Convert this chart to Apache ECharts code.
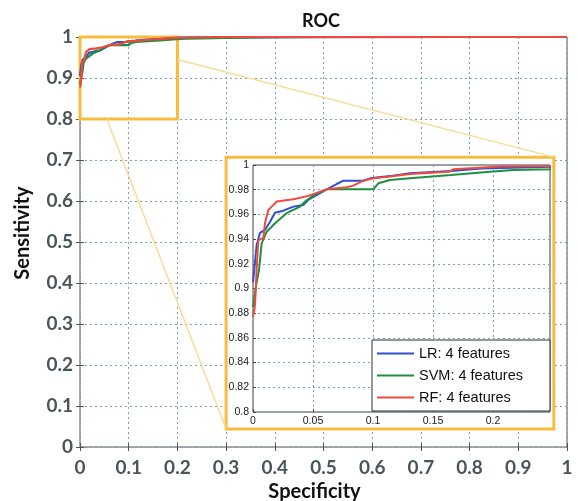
<!doctype html>
<html>
<head>
<meta charset="utf-8">
<title>ROC</title>
<script src="https://cdn.jsdelivr.net/npm/echarts@6/dist/echarts.min.js"></script>
</head>
<body style="margin:0; background:#fff">
<div id="container" style="width:578px;height:501px"></div>
<script>
// ROC curves (x = 1 - specificity as plotted)
var lrX  = [0, 0.0015, 0.003, 0.0058, 0.01, 0.0142, 0.0183, 0.0253, 0.0336, 0.0419, 0.046, 0.0614, 0.0697, 0.0753, 0.0919, 0.0975, 0.1142, 0.1308, 0.165, 0.19, 0.215, 0.2475, 0.3, 0.5, 0.78, 1];
var lrY  = [0.905, 0.92, 0.935, 0.945, 0.9474, 0.954, 0.9614, 0.963, 0.9663, 0.9676, 0.9717, 0.9803, 0.9846, 0.9873, 0.9873, 0.9892, 0.991, 0.9933, 0.9952, 0.9972, 0.9978, 0.9986, 0.9992, 0.9996, 1, 1];
var svmX = [0, 0.0015, 0.003, 0.005, 0.0072, 0.0114, 0.0197, 0.028, 0.0392, 0.0433, 0.053, 0.0614, 0.1003, 0.1044, 0.1142, 0.1308, 0.165, 0.1975, 0.2169, 0.2475, 0.3, 0.4, 0.5, 1];
var svmY = [0.885, 0.895, 0.905, 0.915, 0.9366, 0.946, 0.954, 0.961, 0.9663, 0.9703, 0.977, 0.9803, 0.9803, 0.9852, 0.9879, 0.9892, 0.9919, 0.9946, 0.996, 0.9965, 0.998, 0.9995, 1, 1];
var rfX  = [0, 0.0015, 0.002, 0.003, 0.0044, 0.0086, 0.01, 0.0128, 0.0156, 0.0197, 0.0336, 0.0461, 0.0614, 0.078, 0.0836, 0.0919, 0.1003, 0.1142, 0.1308, 0.164, 0.1669, 0.1919, 0.2058, 0.2475, 0.3, 1];
var rfY  = [0.877, 0.885, 0.893, 0.915, 0.939, 0.941, 0.953, 0.9636, 0.9663, 0.9704, 0.9722, 0.975, 0.9803, 0.982, 0.9833, 0.9873, 0.9892, 0.9906, 0.9927, 0.9946, 0.9965, 0.998, 0.9987, 0.9992, 1, 1];

var seriesNames = ['LR: 4 features', 'SVM: 4 features', 'RF: 4 features'];
var seriesColors = ['#2f4fd0', '#1f8f3f', '#f04a3c'];

// zoomed region shown in the inset
var zoomX = [0, 0.2];
var zoomY = [0.8, 1];

function zip(xs, ys) {
  var out = [];
  for (var i = 0; i < xs.length; i++) out.push([xs[i], ys[i]]);
  return out;
}
var curves = [zip(lrX, lrY), zip(svmX, svmY), zip(rfX, rfY)];

var dom = document.getElementById('container');
var myChart = echarts.init(dom, null, {renderer: 'canvas'});

var gridLine = {show: true, lineStyle: {color: '#7b9fb5', type: [2, 3], width: 1}};
var bigFont = {fontFamily: 'Lato', fontWeight: 'bold', fontSize: 19, color: '#4b5559'};
var smallFont = {fontFamily: 'Liberation Sans', fontSize: 10.5, color: '#222'};
var nameFont = {fontFamily: 'Lato', fontWeight: 'bold', fontSize: 20, color: '#111'};
var yellow = '#f7bc3c';

var series = [];
// yellow zoom box, inset frame and connector lines
series.push({
  type: 'line',
  xAxisIndex: 0, yAxisIndex: 0,
  data: [],
  z: 1,
  silent: true,
  markArea: {
    silent: true,
    label: {show: false},
    data: [
      [{coord: [zoomX[0], zoomY[0]], itemStyle: {color: 'rgba(0,0,0,0)', borderColor: yellow, borderWidth: 3}},
       {coord: [zoomX[1], zoomY[1]]}],
      [{coord: [0.3, 0.044], itemStyle: {color: '#fff', borderColor: yellow, borderWidth: 3}},
       {coord: [0.973, 0.707]}]
    ]
  },
  markLine: {
    silent: true,
    symbol: 'none',
    label: {show: false},
    lineStyle: {color: '#f9dc97', width: 1.5, type: 'solid'},
    data: [
      [{coord: [zoomX[1], 0.945]}, {coord: [0.973, 0.707]}],
      [{coord: [0.055, zoomY[0]]}, {coord: [0.3, 0.044]}]
    ]
  }
});

for (var i = 0; i < 3; i++) {
  series.push({
    name: seriesNames[i],
    type: 'line',
    xAxisIndex: 0, yAxisIndex: 0,
    data: curves[i],
    showSymbol: false,
    color: seriesColors[i],
    lineStyle: {width: 2.2},
    z: 2
  });
}
for (var i = 0; i < 3; i++) {
  series.push({
    name: seriesNames[i],
    type: 'line',
    xAxisIndex: 2, yAxisIndex: 2,
    data: curves[i],
    showSymbol: false,
    color: seriesColors[i],
    lineStyle: {width: 2},
    clip: true,
    z: 6
  });
}

var option = {
  animation: false,
  backgroundColor: '#fff',
  title: {
    text: 'ROC',
    left: 297, top: 7,
    textStyle: {fontFamily: 'Lato', fontWeight: 'bold', fontSize: 18, color: '#111'}
  },
  legend: {
    orient: 'vertical',
    left: 372, top: 340,
    padding: [6, 27, 6, 5],
    itemGap: 7,
    itemWidth: 37,
    itemHeight: 2,
    icon: 'rect',
    backgroundColor: '#fff',
    borderColor: '#333',
    borderWidth: 1,
    z: 10,
    data: seriesNames,
    textStyle: {fontFamily: 'Liberation Sans', fontSize: 14.5, color: '#111'}
  },
  grid: [
    {left: 80, top: 37, right: 11, bottom: 54, outerBoundsMode: 'none', containLabel: false,
     show: true, borderColor: '#555', borderWidth: 1, backgroundColor: 'transparent'},
    {left: 253, top: 165, width: 297, height: 247, outerBoundsMode: 'none', containLabel: false,
     show: true, borderColor: '#444', borderWidth: 1, backgroundColor: 'transparent', z: 5}
  ],
  xAxis: [
    {
      gridIndex: 0, type: 'value', min: 0, max: 1, interval: 0.1,
      name: 'Specificity', nameLocation: 'middle', nameGap: 33,
      nameTextStyle: Object.assign({padding: [0, 18, 0, 0]}, nameFont),
      axisLine: {show: false},
      axisTick: {show: true, inside: true, length: 4, lineStyle: {color: '#555'}},
      axisLabel: Object.assign({margin: 11}, bigFont),
      splitLine: gridLine
    },
    {
      gridIndex: 0, type: 'value', min: 0, max: 1, interval: 0.1, position: 'top',
      axisLine: {show: false},
      axisTick: {show: true, inside: true, length: 4, lineStyle: {color: '#555'}},
      axisLabel: {show: false},
      splitLine: {show: false}
    },
    {
      gridIndex: 1, type: 'value', min: 0, max: 0.2475, interval: 0.05, z: 5,
      axisLine: {show: false},
      axisTick: {show: true, inside: true, length: 3, lineStyle: {color: '#444'}},
      axisLabel: Object.assign({margin: 4, showMaxLabel: false}, smallFont),
      splitLine: gridLine
    }
  ],
  yAxis: [
    {
      gridIndex: 0, type: 'value', min: 0, max: 1, interval: 0.1,
      name: 'Sensitivity', nameLocation: 'middle', nameGap: 47,
      nameTextStyle: Object.assign({padding: [0, 0, 0, 18]}, nameFont),
      axisLine: {show: false},
      axisTick: {show: true, inside: true, length: 4, lineStyle: {color: '#555'}},
      axisLabel: Object.assign({margin: 7}, bigFont),
      splitLine: gridLine
    },
    {
      gridIndex: 0, type: 'value', min: 0, max: 1, interval: 0.1, position: 'right',
      axisLine: {show: false},
      axisTick: {show: true, inside: true, length: 4, lineStyle: {color: '#555'}},
      axisLabel: {show: false},
      splitLine: {show: false}
    },
    {
      gridIndex: 1, type: 'value', min: 0.8, max: 1, interval: 0.02, z: 5,
      axisLine: {show: false},
      axisTick: {show: true, inside: true, length: 3, lineStyle: {color: '#444'}},
      axisLabel: Object.assign({margin: 4}, smallFont),
      splitLine: gridLine
    }
  ],
  series: series
};

myChart.setOption(option);
</script>
</body>
</html>
